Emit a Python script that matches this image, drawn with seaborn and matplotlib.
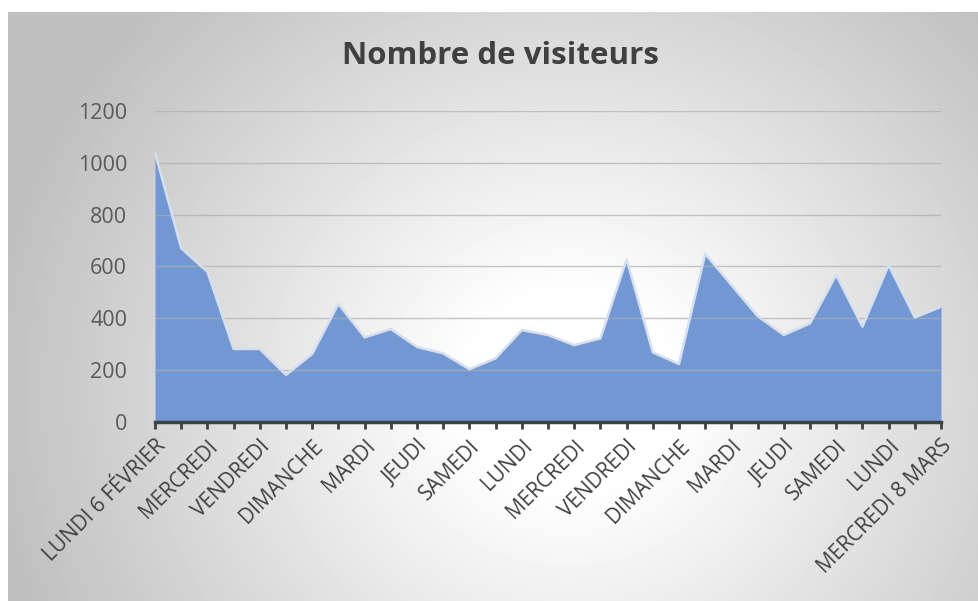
import numpy as np
import matplotlib
matplotlib.use("Agg")
import matplotlib.pyplot as plt
import seaborn as sns
import pandas as pd

# Nombre de visiteurs, du lundi 6 février au mercredi 8 mars (un point par jour)
jours = list(range(31))
visiteurs = [1040, 670, 579, 281, 281, 181, 262, 455, 326, 358, 289,
             264, 203, 245, 354, 335, 296, 322, 627, 268, 223,
             648, 528, 408, 335, 380, 567, 367, 605, 403, 444]
etiquettes = ["LUNDI 6 FÉVRIER", "MERCREDI", "VENDREDI", "DIMANCHE", "MARDI",
              "JEUDI", "SAMEDI", "LUNDI", "MERCREDI", "VENDREDI", "DIMANCHE",
              "MARDI", "JEUDI", "SAMEDI", "LUNDI", "MERCREDI 8 MARS"]
graduations_y = [0, 200, 400, 600, 800, 1000, 1200]

df = pd.DataFrame({"jour": jours, "visiteurs": visiteurs})

sns.set_theme(style="white")
plt.rcParams["font.family"] = ["Open Sans", "DejaVu Sans"]

W, H = 979, 601
fig = plt.figure(figsize=(W / 100, H / 100), dpi=100, facecolor="white")

# fond en dégradé radial (blanc au centre, gris sur les bords)
bg = fig.add_axes([8 / W, 0, 1 - 8 / W, 1 - 12 / H], zorder=-2)
bw, bh = W - 8, H - 12
yy, xx = np.mgrid[0:bh, 0:bw]
r = np.hypot(xx - 560, (yy - 380) * 1.05)
grad = 1 - 0.25 * np.clip((r - 100) / 480, 0, 1)
bg.imshow(grad, cmap="gray", vmin=0, vmax=1, aspect="auto", interpolation="bilinear")
bg.set_axis_off()

ax = fig.add_axes([155 / W, 1 - 421.8 / H, (941 - 155) / W, (421.8 - 110.9) / H])
ax.patch.set_alpha(0)

ax.fill_between(df["jour"], df["visiteurs"], 0, color="#7297D2", lw=0, zorder=2)
sns.lineplot(data=df, x="jour", y="visiteurs", ax=ax, color="#D3DFF2", lw=1.8, zorder=3)

ax.set_xlim(0, 30)
ax.set_ylim(0, 1200)
ax.set_yticks(graduations_y)
ax.set_xticks(jours)
ax.set_xticklabels([etiquettes[i // 2] if i % 2 == 0 else "" for i in jours],
                   rotation=45, ha="right", va="top", rotation_mode="anchor")
ax.tick_params(axis="x", length=5, width=2, color="#404040", direction="out",
               labelsize=15, labelcolor="#404040", pad=5, bottom=True)
ax.tick_params(axis="y", length=0, labelsize=15.5, labelcolor="#595959", pad=20)
ax.grid(axis="y", color="#AFAFAF", lw=1, alpha=0.7, zorder=4)
ax.set_axisbelow(False)
for s in ["top", "right", "left"]:
    ax.spines[s].set_visible(False)
ax.spines["bottom"].set_color("#404040")
ax.spines["bottom"].set_linewidth(2.5)
ax.spines["bottom"].set_zorder(5)
ax.set_xlabel("")
ax.set_ylabel("")

fig.text(501 / W, 1 - 56 / H, "Nombre de visiteurs", ha="center", va="center",
         fontsize=22.5, fontweight="bold", color="#404040")

fig.savefig("out.png", dpi=100)
